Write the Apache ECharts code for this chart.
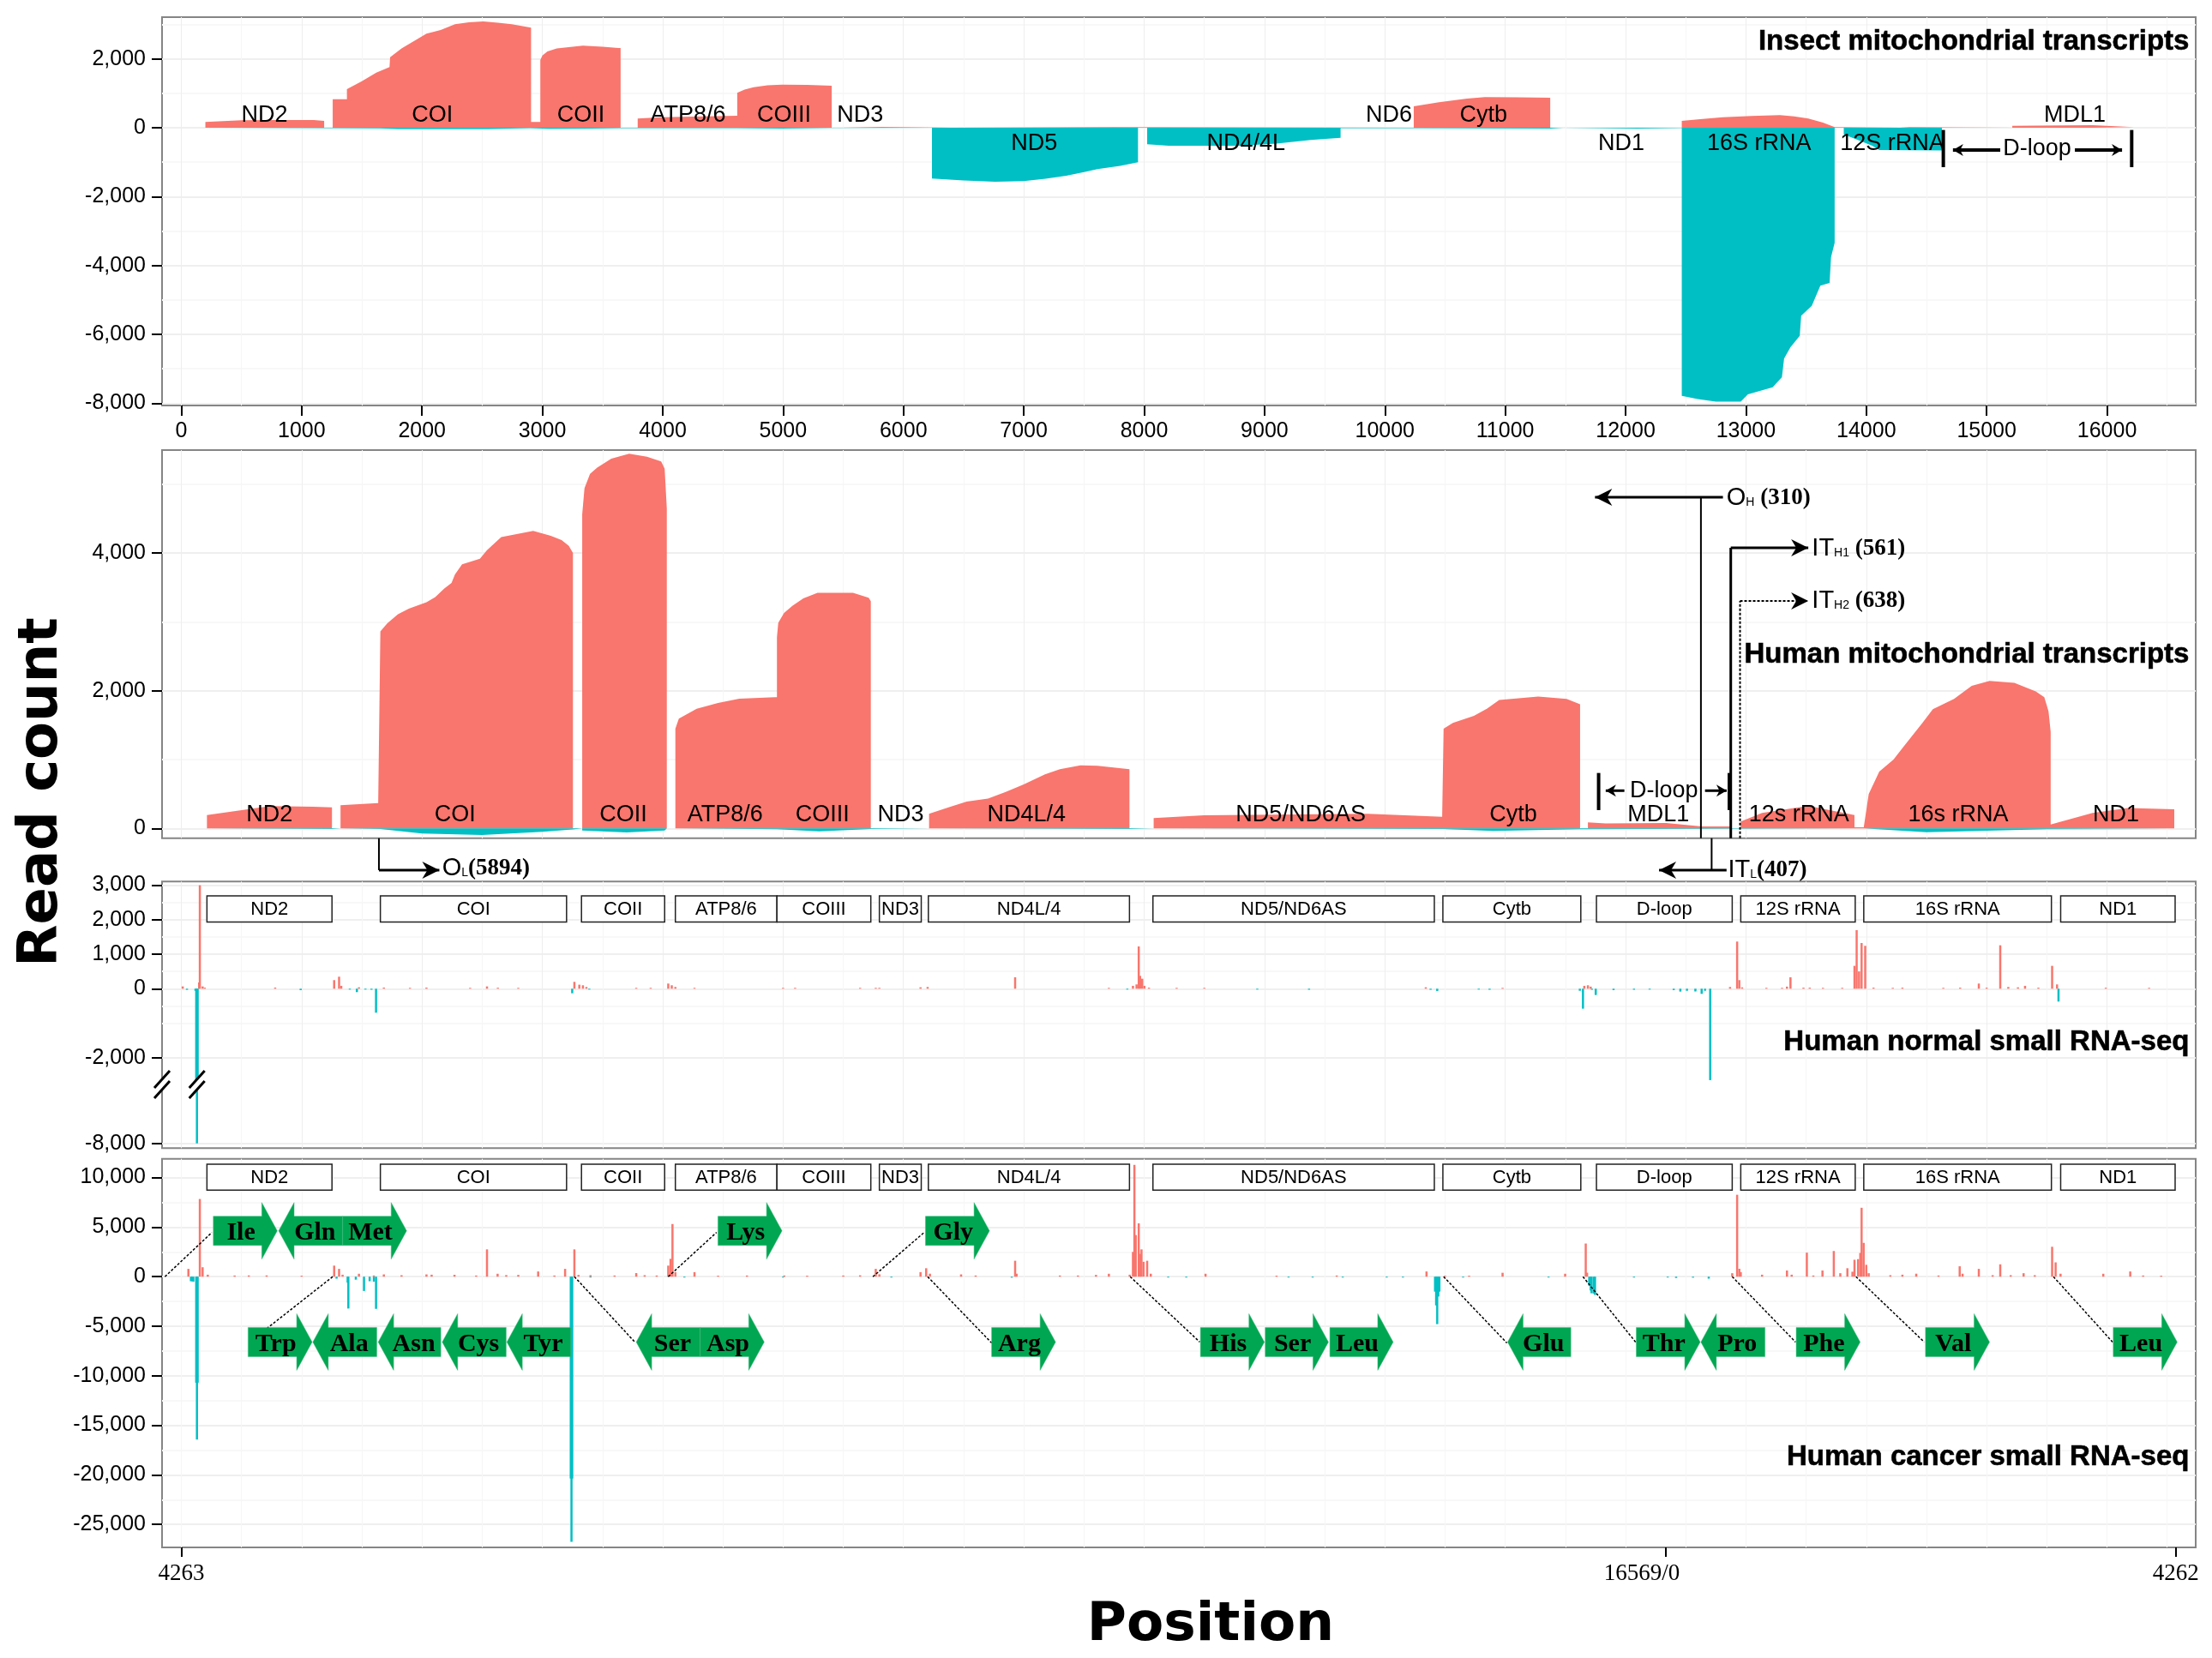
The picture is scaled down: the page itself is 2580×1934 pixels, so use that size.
<!DOCTYPE html>
<html>
<head>
<meta charset="utf-8">
<title>Read count by position</title>
<script src="https://cdn.jsdelivr.net/npm/echarts@6/dist/echarts.min.js"></script>
<style>
html, body { margin: 0; padding: 0; background: #fff; }
#main { width: 2580px; height: 1934px; }
</style>
</head>
<body>
<div id="main"></div>
<script>
// coverage outlines, [position, reads]
const insectPlus = [[175,0],[200,0],[200,170],[500,215],[800,225],[1100,225],[1187,200],[1187,0],
  [1258,0],[1258,830],[1376,830],[1376,1120],[1500,1350],[1620,1600],[1730,1760],[1735,2050],[1830,2300],[1950,2550],[2037,2730],[2155,2840],[2274,3005],[2390,3060],[2510,3088],[2630,3050],[2746,3005],[2906,2905],[2906,170],[2983,170],
  [2983,1967],[3000,2100],[3042,2216],[3120,2300],[3219,2340],[3337,2382],[3500,2350],[3632,2316],[3650,2316],[3650,0],
  [3792,0],[3792,265],[3987,307],[4619,350],[4619,1012],[4680,1110],[4755,1179],[4870,1230],[4991,1253],[5200,1245],[5404,1220],[5404,0],
  [5481,0],[5481,25],[5823,25],[5823,0],[6400,0],[6400,20],[7750,20],[7750,0],
  [10240,0],[10240,622],[10450,740],[10683,846],[10831,888],[11100,885],[11374,871],[11374,0],
  [12467,0],[12467,199],[12620,250],[12809,307],[13050,345],[13282,365],[13400,330],[13518,265],[13640,150],[13737,20],[13737,0],
  [14280,0],[14280,20],[14360,20],[14360,0],[15213,0],[15213,58],[15880,75],[16223,17],[16223,0]];
const insectMinus = [[175,0],[175,-10],[1258,-10],[1650,-20],[1800,-35],[2550,-40],[2900,-15],[3050,-30],[3400,-25],[3650,-10],[4619,-10],[4991,-25],[5404,-5],[5404,0],
  [6237,0],[6237,-1477],[6500,-1530],[6762,-1569],[6999,-1552],[7180,-1480],[7353,-1394],[7500,-1290],[7612,-1203],[7800,-1110],[7949,-1004],[7949,0],
  [8025,0],[8025,-481],[8203,-523],[8793,-523],[9100,-460],[9384,-357],[9632,-290],[9632,-10],[10240,-10],[11374,-25],[11374,0],
  [11480,0],[11480,-25],[12100,-25],[12100,-8],[12467,-8],
  [12467,-7785],[12600,-7880],[12750,-7951],[12957,-7951],[13016,-7744],[13222,-7536],[13299,-7246],[13317,-6706],[13370,-6374],[13447,-6042],[13459,-5461],[13547,-5171],[13618,-4590],[13695,-4507],[13707,-3760],[13737,-3345],[13737,0],
  [13813,0],[13813,-191],[14050,-520],[14108,-647],[14628,-660],[14628,0]];
const humanPlus = [[213,0],[213,195],[502,266],[738,324],[1093,315],[1252,307],[1252,0],
  [1323,0],[1323,336],[1636,369],[1654,2860],[1712,2980],[1800,3110],[1890,3192],[2037,3285],[2110,3360],[2185,3483],[2245,3565],[2274,3690],[2333,3836],[2481,3918],[2540,4040],[2658,4230],[2924,4321],[3070,4250],[3160,4188],[3220,4105],[3254,4002],[3254,0],
  [3331,0],[3331,4562],[3350,4940],[3396,5150],[3455,5240],[3573,5371],[3721,5442],[3869,5400],[3987,5330],[4016,5225],[4034,4645],[4034,0],
  [4105,0],[4105,1449],[4134,1594],[4282,1739],[4459,1822],[4636,1885],[4931,1905],[4949,1905],[4949,2777],[4960,2985],[5008,3130],[5079,3235],[5168,3340],[5286,3421],[5581,3421],[5711,3350],[5729,3300],[5729,0],
  [6213,0],[6213,212],[6380,310],[6526,390],[6703,432],[6850,530],[6999,639],[7176,785],[7300,860],[7471,917],[7612,909],[7878,859],[7878,0],
  [8079,0],[8079,149],[8498,191],[9856,212],[10476,170],[10488,1449],[10565,1532],[10740,1635],[10850,1740],[10950,1864],[11274,1914],[11510,1880],[11622,1802],[11622,0],
  [11687,0],[11687,87],[11835,71],[12337,79],[12632,29],[12868,29],[12868,0],
  [12957,0],[12957,100],[13134,224],[13518,328],[13902,195],[13902,17],[13979,17],
  [14020,500],[14108,826],[14226,1000],[14315,1200],[14465,1530],[14553,1730],[14729,1880],[14876,2071],[15024,2142],[15230,2115],[15408,1990],[15479,1905],[15514,1700],[15532,1400],[15532,58],
  [15880,224],[16175,295],[16559,278],[16559,0]];
const humanMinus = [[213,0],[213,-10],[1252,-10],[1252,0],[1323,0],[1323,-8],[1654,-10],[2000,-75],[2500,-95],[3000,-50],[3254,-15],[3254,0],
  [3331,0],[3331,-30],[3700,-58],[4016,-30],[4034,0],[4105,0],[4105,-8],[4949,-12],[5300,-42],[5729,-8],[5729,0],
  [6213,0],[6213,-10],[7878,-10],[7878,0],[8079,0],[8079,-10],[10476,-10],[10900,-37],[11622,-12],[11622,0],
  [13979,0],[13979,-10],[14500,-54],[15500,-12],[16559,-8],[16559,0]];
const humanTicks = [0, 2000, 4000];

// small RNA read peaks, [position, reads]
const normalPlus = [[12,66],[154,2992],[148,180],[177,66],[195,30],[780,33],[1270,248],[1311,347],[1329,83],[1476,41],[1683,33],[1900,25],[2037,33],[2400,20],[2540,66],[2630,28],[2800,25],
  [3266,198],[3307,116],[3337,99],[3366,50],[3780,25],[3900,25],[4046,149],[4075,99],[4105,50],[4264,20],[5000,20],[5100,18],[5640,18],[5800,18],[5770,24],[6142,41],[6201,50],[6928,331],[7707,22],
  [7907,83],[7937,124],[7955,1223],[7966,372],[7984,289],[8002,83],[8040,30],[8270,20],[8500,15],[10340,41],[10978,22],[11657,83],[11687,99],[11710,60],
  [12868,50],[12927,1364],[12945,248],[12968,40],[13170,25],[13300,25],[13341,60],[13370,331],[13478,30],[13530,30],[13640,20],[13800,20],[13902,661],[13920,1694],[13940,500],[13961,1322],[13991,1240],[14060,30],[14220,25],[14300,30],
  [14640,20],[14780,30],[14935,149],[15000,30],[15113,1256],[15180,50],[15260,40],[15319,83],[15430,30],[15544,661],[15585,124],[15990,28],[16350,20]];
const normalMinus = [[47,-33],[118,-60],[124,-3000],[130,-3000],[136,-3000],[992,-41],[1459,-99],[1400,-20],[1530,-25],[1580,-30],[1618,-694],[3248,-132],[3390,-25],
  [7860,-12],[8940,-12],[9370,-30],[10380,-30],[10435,-66],[10780,-20],[10870,-30],[11646,-578],[11620,-60],[11720,-30],[11752,-182],[11900,-40],[12070,-30],[12200,-25],[12400,-40],[12455,-83],[12510,-60],[12580,-80],[12632,-149],[12660,-60],[12703,-2645],[15597,-372]];
const normalTail = [[130,-8000]];
const cancerPlus = [[59,787],[154,7839],[177,951],[220,200],[443,120],[561,130],[709,130],[1000,100],[1270,1115],[1311,787],[1340,200],[1476,295],[1600,120],[1683,230],[1830,150],[2037,230],[2080,200],[2270,190],[2450,120],[2540,2755],[2628,295],[2700,160],[2800,180],[2965,525],[3100,120],[3189,787],[3266,2755],[3300,180],[3400,150],
  [3600,120],[3780,361],[3850,150],[3950,120],[4046,1115],[4065,1800],[4081,5314],[4105,459],[4264,459],[4460,100],[4700,120],[5010,120],[5200,100],[5500,120],[5640,140],[5770,787],[5800,240],[6142,459],[6189,853],[6220,300],[6479,230],[6600,120],[6928,1607],[6940,300],[7300,120],[7450,120],[7600,180],[7707,295],
  [7880,200],[7907,2500],[7919,11283],[7930,4200],[7955,5379],[7966,2300],[7978,2755],[7995,1500],[8025,1607],[8055,300],[8510,295],[9100,100],[9600,120],[10346,525],[10500,100],[10700,100],[10978,394],[11498,295],[11669,3346],[11680,400],
  [12886,350],[12927,8266],[12945,800],[12957,459],[13134,200],[13341,623],[13380,200],[13506,2427],[13560,120],[13636,623],[13730,2591],[13784,350],[13843,853],[13885,500],[13902,1706],[13932,1770],[13950,2400],[13961,6954],[13978,3411],[14000,1200],[14020,350],[14200,150],[14300,200],[14415,300],[14600,120],
  [14776,1050],[14800,300],[14935,787],[15050,150],[15113,1246],[15200,150],[15307,350],[15400,150],[15544,3018],[15573,1443],[15614,300],[15969,295],[16193,525],[16300,120],[16450,100]];
const cancerMinus = [[80,-459],[89,-459],[100,-500],[124,-10700],[130,-16433],[136,-10700],[1290,-200],[1388,-3214],[1382,-600],[1450,-300],[1518,-1443],[1565,-459],[1600,-500],[1618,-3247],
  [3236,-20369],[3242,-26765],[3248,-20369],[3400,-60],[4180,-80],[5000,-70],[5900,-60],[6900,-100],[8200,-80],[8350,-60],[9200,-60],[9400,-50],[9650,-60],[10015,-60],[10150,-60],
  [10417,-1509],[10426,-2900],[10435,-4789],[10444,-2000],[10453,-1509],[10650,-60],[11360,-70],[11698,-900],[11710,-1400],[11717,-1673],[11735,-1700],[11746,-1837],[12070,-80],[12350,-60],[12420,-130],[12560,-100],[12691,-197]];

// gene spans in the panel headers
const geneNames = ['ND2','COI','COII','ATP8/6','COIII','ND3','ND4L/4','ND5/ND6AS','Cytb','D-loop','12S rRNA','16S rRNA','ND1'];
const geneStart = [213,1654,3325,4105,4949,5800,6207,8073,10482,11758,12957,13979,15615];
const geneEnd = [1252,3201,4016,4949,5729,6148,7878,10411,11628,12886,13908,15538,16566];

// transcript labels, [position, reads]
const insectLabels = [['ND2',691,360],['COI',2085,360],['COII',3319,360],['ATP8/6',4211,360],['COIII',5008,360],['ND3',5640,360],['ND5',7087,-470],['ND4/4L',8846,-470],['ND6',10033,360],['Cytb',10819,360],['ND1',11965,-470],['16S rRNA',13110,-470],['12S rRNA',14215,-470],['MDL1',15733,360],['D-loop',15420,-622]];
const humanLabels = [['ND2',732,190],['COI',2274,190],['COII',3673,190],['ATP8/6',4518,190],['COIII',5327,190],['ND3',5977,190],['ND4L/4',7022,190],['ND5/ND6AS',9301,190],['Cytb',11067,190],['MDL1',12272,190],['12s rRNA',13441,190],['16s rRNA',14764,190],['ND1',16075,190],['D-loop',12319,548]];

// tRNA arrows: name, start, end, direction
const trnaUpper = [['Ile',266,797,1],['Gln',809,1341,-1],['Met',1341,1872,1],['Lys',4459,4991,1],['Gly',6183,6715,1]];
const trnaLower = [['Trp',555,1087,1],['Ala',1093,1624,-1],['Asn',1636,2156,-1],['Cys',2168,2699,-1],['Tyr',2705,3236,-1],['Ser',3780,4311,-1],['Asp',4311,4843,1],['Arg',6733,7264,1],['His',8468,8999,1],['Ser',9006,9531,1],['Leu',9543,10069,1],['Glu',11020,11545,-1],['Thr',12089,12620,1],['Pro',12626,13158,-1],['Phe',13418,13949,1],['Val',14492,15024,1],['Leu',16052,16583,1]];
const trnaUpperLevel = 4625;
const trnaLowerLevel = -6593;
// dotted leader lines from a peak to its arrow: x0, y0, x1, y1
const leaders = [[-136,0,254,4461],[1258,0,561,-6658],[4046,0,4447,4461],[5746,0,6172,4461],[3266,0,3768,-6593],[6201,0,6733,-6691],[7884,0,8462,-6593],[10488,0,11014,-6691],[11646,0,12083,-6593],[12886,0,13412,-6593],[13914,0,14481,-6593],[15555,0,16046,-6593]];

// origin and promoter marks on the human panel: x0, y0, x1, y1, line width, dashed, head
const humanLines = [[12626,-142,12626,4811,2,0,0],[12809,4811,11746,4811,3,0,1],
  [12874,-142,12874,4076,3,0,0],[12874,4076,13518,4076,3,0,1],
  [12951,-142,12951,3304,2,1,0],[12951,3304,13518,3304,2,1,1],
  [1642,-142,1642,-606,2,0,0],[1642,-606,2144,-606,3,0,1],
  [12715,-142,12715,-606,2,0,0],[12839,-606,12278,-606,3,0,1],
  [11776,266,11776,805,4,0,0],[12862,266,12862,805,4,0,0],
  [11990,548,11835,548,3,0,2],[12660,548,12840,548,3,0,2]];
const insectLines = [[14640,-66,14640,-1145,4,0,0],[16205,-66,16205,-1145,4,0,0],
  [15113,-647,14720,-647,4,0,2],[15733,-647,16125,-647,4,0,2]];
const humanMarks = [['O','H',' (310)',12839,4799],['IT','H1',' (561)',13548,4064],['IT','H2',' (638)',13548,3304],['O','L','(5894)',2167,-585],['IT','L','(407)',12851,-606]];

const xMajor = [0,1000,2000,3000,4000,5000,6000,7000,8000,9000,10000,11000,12000,13000,14000,15000,16000];
const xMinor = [500,1500,2500,3500,4500,5500,6500,7500,8500,9500,10500,11500,12500,13500,14500,15500,16500];
const xMin = -160;
const xMax = 16737;
const bottomTicks = [0, 12336, 16571];
// the middle label sits left of its tick in the original
const bottomLabelAt = [0, 12135, 16571];
const bottomLabels = {0: '4263', 12135: '16569/0', 16571: '4262'};

const PINK = '#F8766D';
const TEAL = '#00BFC4';
const GREEN = '#00A651';
const SANS = '"Liberation Sans", Arial, sans-serif';
const SERIF = '"Liberation Serif", "Times New Roman", serif';
const HEAVY = '"DejaVu Sans", sans-serif';

let grids = [], xAxes = [], yAxes = [], series = [];

function thousands(v) {
  return Number(v).toLocaleString('en-US');
}

function addPanel(top, bottom, yMin, yMax, yTicks, yMinorTicks, border, xOpt) {
  let gridIndex = grids.length;
  grids.push({
    left: 189, width: 2372, top: top, height: bottom - top, show: border,
    backgroundColor: 'transparent', borderColor: '#858585', borderWidth: 2
  });
  xOpt = xOpt || {};
  let xIndex = xAxes.length;
  xAxes.push({
    type: 'value', gridIndex: gridIndex, min: xMin, max: xMax, position: 'bottom',
    axisLine: {show: false, onZero: false},
    axisTick: {show: !!xOpt.labels, length: xOpt.tickLength || 12, customValues: xOpt.ticks || xMajor, lineStyle: {color: '#000', width: 2}},
    axisLabel: {show: !!xOpt.labels, customValues: xOpt.labelAt || xMajor, margin: xOpt.margin || 18, fontFamily: xOpt.font || SANS, fontSize: xOpt.fontSize || 25, color: '#000', formatter: xOpt.labels, hideOverlap: false},
    splitLine: {show: !xOpt.noVertical && !xOpt.ticks, lineStyle: {color: '#EEEEEE', width: 1}}
  });
  xAxes.push({
    type: 'value', gridIndex: gridIndex, min: xMin, max: xMax, position: 'bottom',
    axisLine: {show: false, onZero: false},
    axisTick: {show: false, customValues: xOpt.ticks ? xMajor.concat(xMinor) : xMinor},
    axisLabel: {show: false},
    splitLine: {show: !xOpt.noVertical, lineStyle: {color: '#F6F6F6', width: 1}}
  });
  let yIndex = yAxes.length;
  yAxes.push({
    type: 'value', gridIndex: gridIndex, min: yMin, max: yMax,
    axisLine: {show: false, onZero: false},
    axisTick: {show: true, length: 12, customValues: yTicks, lineStyle: {color: '#000', width: 2}},
    axisLabel: {show: true, customValues: yTicks, margin: 19, fontFamily: SANS, fontSize: 25, color: '#000', formatter: thousands},
    splitLine: {show: true, lineStyle: {color: '#EFEFEF', width: 2}}
  });
  yAxes.push({
    type: 'value', gridIndex: gridIndex, min: yMin, max: yMax,
    axisLine: {show: false, onZero: false},
    axisTick: {show: false, customValues: yMinorTicks},
    axisLabel: {show: false},
    splitLine: {show: true, lineStyle: {color: '#F8F8F8', width: 2}}
  });
  return {x: xIndex, y: yIndex};
}

function addArea(panel, data, color) {
  series.push({
    type: 'line', xAxisIndex: panel.x, yAxisIndex: panel.y, data: data, symbol: 'none',
    lineStyle: {width: 0}, areaStyle: {color: color, opacity: 1}, silent: true, z: 3
  });
}

function addPeaks(panel, data, color) {
  series.push({
    type: 'bar', xAxisIndex: panel.x, yAxisIndex: panel.y, data: data, barWidth: 2.5, barGap: '-100%',
    barMinHeight: 1, itemStyle: {color: color}, silent: true, z: 3
  });
}

function addCustom(panel, data, renderItem, z) {
  series.push({
    type: 'custom', xAxisIndex: panel.x, yAxisIndex: panel.y, data: data, renderItem: renderItem,
    silent: true, clip: false, z: z || 5
  });
}

function addLabels(panel, labels, size) {
  addCustom(panel, labels.map(l => [l[1], l[2]]), function(params, api) {
    let l = labels[params.dataIndex];
    let p = api.coord([l[1], l[2]]);
    return {type: 'text', style: {x: p[0], y: p[1], text: l[0], fill: '#000', fontFamily: SANS, fontSize: size, textAlign: 'center', textVerticalAlign: 'middle'}};
  }, 6);
}

function addGeneBoxes(panel, yTop, yBottom) {
  addCustom(panel, geneNames.map((n, i) => [geneStart[i], yTop]), function(params, api) {
    let i = params.dataIndex;
    let a = api.coord([geneStart[i], yTop]);
    let b = api.coord([geneEnd[i], yBottom]);
    return {type: 'group', children: [
      {type: 'rect', shape: {x: a[0], y: a[1], width: b[0] - a[0], height: b[1] - a[1]}, style: {fill: '#fff', stroke: '#222', lineWidth: 1.5}},
      {type: 'text', style: {x: (a[0] + b[0]) / 2, y: (a[1] + b[1]) / 2 + 1, text: geneNames[i], fill: '#000', fontFamily: SANS, fontSize: 22, textAlign: 'center', textVerticalAlign: 'middle'}}
    ]};
  });
}

function addLines(panel, lines) {
  addCustom(panel, lines.map(l => [l[0], l[1]]), function(params, api) {
    let l = lines[params.dataIndex];
    let a = api.coord([l[0], l[1]]);
    let b = api.coord([l[2], l[3]]);
    let children = [{type: 'line', shape: {x1: a[0], y1: a[1], x2: b[0], y2: b[1]}, style: {stroke: '#000', lineWidth: l[4], lineDash: l[5] ? [3, 2] : null}}];
    if (l[6]) {
      let len = l[6] == 1 ? 20 : 12;
      let half = l[6] == 1 ? 10 : 7;
      let dir = b[0] > a[0] ? 1 : -1;
      children.push({type: 'polygon', shape: {points: [[b[0], b[1]], [b[0] - dir * len, b[1] - half], [b[0] - dir * len * 0.7, b[1]], [b[0] - dir * len, b[1] + half]]}, style: {fill: '#000'}});
    }
    return {type: 'group', children: children};
  }, 7);
}

function addMarks(panel, marks) {
  addCustom(panel, marks.map(m => [m[3], m[4]]), function(params, api) {
    let m = marks[params.dataIndex];
    let p = api.coord([m[3], m[4]]);
    return {type: 'text', style: {
      x: p[0], y: p[1], text: '{a|' + m[0] + '}{b|' + m[1] + '}{c|' + m[2] + '}',
      textAlign: 'left', textVerticalAlign: 'middle',
      rich: {
        a: {fontFamily: SANS, fontSize: 29, fill: '#000'},
        b: {fontFamily: SANS, fontSize: 14, fill: '#000', padding: [10, 0, 0, 0]},
        c: {fontFamily: SERIF, fontWeight: 'bold', fontSize: 27, fill: '#000'}
      }
    }};
  }, 7);
}

function addArrows(panel, list, level) {
  addCustom(panel, list.map(t => [t[1], level]), function(params, api) {
    let t = list[params.dataIndex];
    let a = api.coord([t[1], level]);
    let b = api.coord([t[2], level]);
    let y = a[1];
    let pts, mid;
    if (t[3] > 0) {
      let neck = b[0] - 18;
      pts = [[a[0], y - 17], [neck, y - 17], [neck, y - 33], [b[0], y], [neck, y + 33], [neck, y + 17], [a[0], y + 17]];
      mid = (a[0] + neck) / 2 + 4;
    } else {
      let neck = a[0] + 18;
      pts = [[b[0], y - 17], [neck, y - 17], [neck, y - 33], [a[0], y], [neck, y + 33], [neck, y + 17], [b[0], y + 17]];
      mid = (b[0] + neck) / 2 - 4;
    }
    return {type: 'group', children: [
      {type: 'polygon', shape: {points: pts}, style: {fill: GREEN, stroke: '#3CBB7C', lineWidth: 0.5}},
      {type: 'text', style: {x: mid, y: y + 3, text: t[0], fill: '#000', fontFamily: SERIF, fontWeight: 'bold', fontSize: 30, textAlign: 'center', textVerticalAlign: 'middle'}}
    ]};
  }, 6);
}

function addLeaders(panel, list) {
  addCustom(panel, list.map(l => [l[0], l[1]]), function(params, api) {
    let l = list[params.dataIndex];
    let a = api.coord([l[0], l[1]]);
    let b = api.coord([l[2], l[3]]);
    return {type: 'line', shape: {x1: a[0], y1: a[1], x2: b[0], y2: b[1]}, style: {stroke: '#000', lineWidth: 1.5, lineDash: [3, 2]}};
  }, 5);
}

// insect transcripts
let insect = addPanel(20, 473, -8066, 3211, [-8000,-6000,-4000,-2000,0,2000], [-7000,-5000,-3000,-1000,1000,3000], true, {labels: v => String(v)});
addArea(insect, insectPlus, PINK);
addArea(insect, insectMinus, TEAL);
addLabels(insect, insectLabels, 27);
addLines(insect, insectLines);

// human transcripts
let human = addPanel(525, 977.7, -142, 5495, humanTicks, [1000,3000,5000], true);
addArea(human, humanPlus, PINK);
addArea(human, humanMinus, TEAL);
addLabels(human, humanLabels, 27);
addLines(human, humanLines);
addMarks(human, humanMarks);

// human normal small RNA, the y axis is cut below -2,770
grids.push({left: 189, width: 2372, top: 1028.3, height: 311, show: true, backgroundColor: 'transparent', borderColor: '#858585', borderWidth: 2});
let normal = addPanel(1028.3, 1265, -2770, 3099, [-2000,0,1000,2000,3000], [-1000,-500,500,1500,2500], false);
let normalLow = addPanel(1265, 1339.3, -8139, -6297, [-8000], [], false);
addPeaks(normal, normalPlus, PINK);
addPeaks(normal, normalMinus, TEAL);
addPeaks(normalLow, normalTail, TEAL);
addGeneBoxes(normal, 2686, 1926);
addCustom(normal, [[xMin, -2770], [130, -2770]], function(params, api) {
  let p = api.coord(api.value(0) == xMin ? [xMin, -2770] : [130, -2770]);
  return {type: 'group', children: [
    {type: 'polygon', shape: {points: [[p[0] - 9, p[1] + 4], [p[0] + 9, p[1] - 16], [p[0] + 9, p[1] - 4], [p[0] - 9, p[1] + 16]]}, style: {fill: '#fff'}},
    {type: 'line', shape: {x1: p[0] - 9, y1: p[1] + 4, x2: p[0] + 9, y2: p[1] - 16}, style: {stroke: '#000', lineWidth: 3}},
    {type: 'line', shape: {x1: p[0] - 9, y1: p[1] + 16, x2: p[0] + 9, y2: p[1] - 4}, style: {stroke: '#000', lineWidth: 3}}
  ]};
}, 7);

// human cancer small RNA
let cancer = addPanel(1351.7, 1805, -27318, 11894, [-25000,-20000,-15000,-10000,-5000,0,5000,10000], [-22500,-17500,-12500,-7500,-2500,2500,7500], true, {
  ticks: bottomTicks, labelAt: bottomLabelAt, tickLength: 11, margin: 17, font: SERIF, fontSize: 27, labels: v => bottomLabels[v] || ''
});
addPeaks(cancer, cancerPlus, PINK);
addPeaks(cancer, cancerMinus, TEAL);
addGeneBoxes(cancer, 11349, 8725);
addLeaders(cancer, leaders);
addArrows(cancer, trnaUpper, trnaUpperLevel);
addArrows(cancer, trnaLower, trnaLowerLevel);

function panelTitle(text, y) {
  return {text: text, right: 2580 - 2554, top: y - 15, padding: 0, textStyle: {fontFamily: SANS, fontWeight: 'bold', fontSize: 33, color: '#000', textBorderColor: '#000', textBorderWidth: 0.6}};
}

let chartDom = document.getElementById('main');
let myChart = echarts.init(chartDom);
let option = {
  animation: false,
  backgroundColor: '#fff',
  title: [
    panelTitle('Insect mitochondrial transcripts', 47),
    panelTitle('Human mitochondrial transcripts', 762),
    panelTitle('Human normal small RNA-seq', 1214),
    panelTitle('Human cancer small RNA-seq', 1698)
  ],
  graphic: [
    {type: 'text', x: 49, y: 924, rotation: Math.PI / 2, style: {text: 'Read count', fontFamily: HEAVY, fontWeight: 'bold', fontSize: 64, fill: '#000', textAlign: 'center', textVerticalAlign: 'middle'}},
    {type: 'text', x: 1412, y: 1897, style: {text: 'Position', fontFamily: HEAVY, fontWeight: 'bold', fontSize: 63, fill: '#000', textAlign: 'center', textVerticalAlign: 'middle'}}
  ],
  grid: grids,
  xAxis: xAxes,
  yAxis: yAxes,
  series: series
};

option && myChart.setOption(option);
</script>
</body>
</html>
